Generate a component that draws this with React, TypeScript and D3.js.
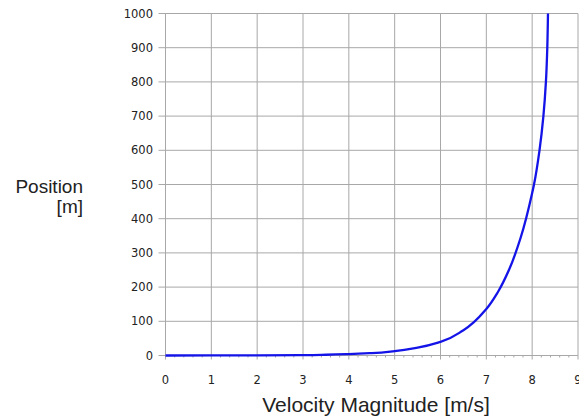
import React from "react";
import * as d3 from "d3";

const velocity = [0, 1, 2, 3, 3.5, 4, 4.5, 5, 5.5, 6, 6.5, 7, 7.25, 7.5, 7.75, 8, 8.04, 8.16, 8.245, 8.3, 8.33, 8.345];
const position = [0, 0.1, 0.4, 1.1, 2.2, 4, 7, 13, 23, 40, 74, 136, 185, 252, 345, 475, 500, 600, 700, 800, 900, 1000];
const xTicks = [0, 1, 2, 3, 4, 5, 6, 7, 8, 9];
const yTicks = [0, 100, 200, 300, 400, 500, 600, 700, 800, 900, 1000];

const W = 579, H = 418;
const left = 165.5, right = 578, top = 13.5, bottom = 355.5;

export default function App() {
  const x = d3.scaleLinear().domain([0, 9]).range([left, right]);
  const y = d3.scaleLinear().domain([0, 1000]).range([bottom, top]);
  const pts = velocity.map((v, i) => [v, position[i]] as [number, number]);
  const line = d3.line<[number, number]>().x(d => x(d[0])).y(d => y(d[1])).curve(d3.curveMonotoneY);
  const minor = d3.range(0, 9.001, 0.2).filter(v => Math.abs(v - Math.round(v)) > 0.01);
  const font = "Liberation Sans, Arial, sans-serif";
  const tickFont = "DejaVu Sans, sans-serif";
  return (
    <svg width={W} height={H} style={{ position: "absolute", left: 0, top: 0, background: "#fff" }}>
      <rect x={0} y={0} width={W} height={H} fill="#fff" />
      {yTicks.map(t => (
        <line key={"gy" + t} x1={left - 7} x2={right} y1={y(t)} y2={y(t)} stroke="#a8a8a8" strokeWidth={1} />
      ))}
      {xTicks.map(t => (
        <line key={"gx" + t} x1={x(t)} x2={x(t)} y1={top} y2={bottom + 4} stroke="#a8a8a8" strokeWidth={1} />
      ))}
      {minor.map(t => (
        <line key={"m" + t} x1={x(t)} x2={x(t)} y1={bottom} y2={bottom + 2} stroke="#a8a8a8" strokeWidth={1} />
      ))}
      {yTicks.map(t => (
        <text key={"ly" + t} x={153} y={y(t) + 4} textAnchor="end" fontFamily={tickFont} fontSize={11.5} fill="#222">{t}</text>
      ))}
      {xTicks.map(t => (
        <text key={"lx" + t} x={x(t)} y={383.5} textAnchor="middle" fontFamily={tickFont} fontSize={11.5} fill="#222">{t}</text>
      ))}
      <path d={line(pts) || ""} fill="none" stroke="#1414e8" strokeWidth={2.3} />
      <text x={376} y={411.5} textAnchor="middle" fontFamily={font} fontSize={21} fill="#222">Velocity Magnitude [m/s]</text>
      <text x={83} y={193} textAnchor="end" fontFamily={font} fontSize={19} fill="#222">Position</text>
      <text x={83} y={212.5} textAnchor="end" fontFamily={font} fontSize={19} fill="#222">[m]</text>
    </svg>
  );
}
